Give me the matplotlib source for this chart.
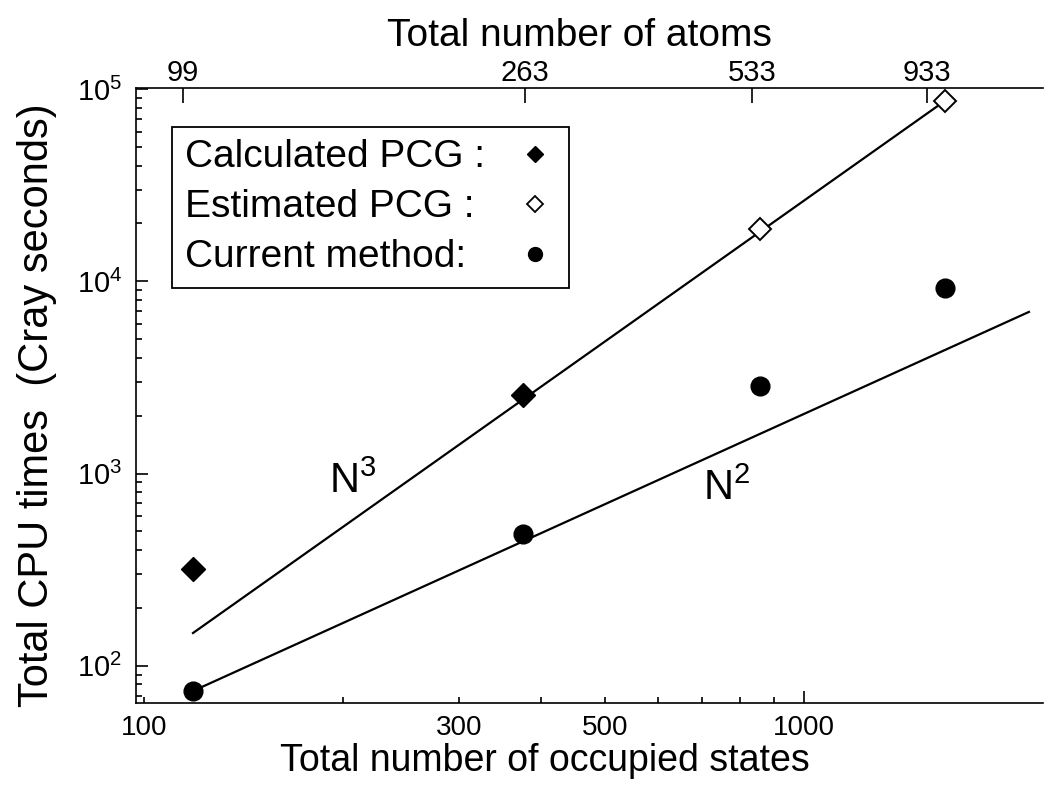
import matplotlib
matplotlib.use('Agg')
import matplotlib.pyplot as plt
from matplotlib.lines import Line2D
from matplotlib.ticker import FixedLocator, NullFormatter, LogLocator

plt.rcParams['font.family'] = ['Liberation Sans', 'DejaVu Sans']
plt.rcParams['mathtext.default'] = 'regular'

# x = total number of occupied states, y = CPU time (Cray seconds)
calc_states = [118.7, 375]
calc_cpu = [319, 2565]
est_states = [856, 1632]
est_cpu = [18740, 86800]
cur_states = [118.7, 375, 856, 1632]
cur_cpu = [73.9, 485, 2857, 9240]

# scaling guide lines (end points)
n3_states = [118.7, 1632]
n3_cpu = [148, 86800]
n2_states = [118.7, 2188]
n2_cpu = [73.9, 6932]

# top axis: number of atoms at their occupied-state positions
atom_labels = ['99', '263', '533', '933']
atom_states = [114.6, 378, 833, 1533]

x_ticks = [100, 300, 500, 1000]
x_minor = [200, 400, 600, 700, 800, 900]

fig = plt.figure(figsize=(10.46, 7.89), dpi=100)
ax = fig.add_axes([0.130, 0.109, 0.867, 0.7795])
ax.set_xscale('log')
ax.set_yscale('log')

ax.plot(n3_states, n3_cpu, color='black', lw=1.6, zorder=2)
ax.plot(n2_states, n2_cpu, color='black', lw=1.6, zorder=2)
ax.plot(calc_states, calc_cpu, ls='none', marker='D', ms=12, color='black', zorder=3)
ax.plot(est_states, est_cpu, ls='none', marker='D', ms=11.5, mfc='white', mec='black', mew=1.4, zorder=3)
ax.plot(cur_states, cur_cpu, ls='none', marker='o', ms=13.5, color='black', zorder=3)

ax.text(207, 904, r'N$^3$', fontsize=30, ha='center', va='center')
ax.text(764, 832, r'N$^2$', fontsize=30, ha='center', va='center')

ax.set_xlim(97.3, 2297)
ax.set_ylim(64, 101400)

# bottom axis ticks
ax.xaxis.set_major_locator(FixedLocator(x_ticks))
ax.xaxis.set_minor_locator(FixedLocator(x_minor))
ax.xaxis.set_minor_formatter(NullFormatter())
ax.set_xticklabels([str(v) for v in x_ticks])
ax.tick_params(axis='x', which='both', direction='in', length=4.3, width=1.2, labelsize=20, pad=9)
major = ax.xaxis.get_major_ticks()
major[0].tick1line.set_visible(False)
major[-1].tick1line.set_markersize(8.6)

ax.yaxis.set_major_locator(LogLocator(base=10))
ax.yaxis.set_minor_locator(LogLocator(base=10, subs=range(2, 10)))
ax.yaxis.set_minor_formatter(NullFormatter())
ax.tick_params(axis='y', which='major', direction='in', length=8.6, width=1.2, labelsize=21, pad=10)
ax.tick_params(axis='y', which='minor', direction='in', length=4.3, width=1.2)

for s in ['left', 'bottom', 'top']:
    ax.spines[s].set_linewidth(1.2)
ax.spines['right'].set_visible(False)

ax.set_xlabel('Total number of occupied states', fontsize=27, labelpad=1)
ax.xaxis.label.set_x(0.451)
ax.set_ylabel('Total CPU times  (Cray seconds)', fontsize=30, labelpad=14)
ax.yaxis.label.set_y(0.485)

# top axis
ax2 = ax.twiny()
ax2.set_xscale('log')
ax2.set_xlim(ax.get_xlim())
ax2.xaxis.set_major_locator(FixedLocator(atom_states))
ax2.xaxis.set_minor_locator(FixedLocator([]))
ax2.set_xticklabels(atom_labels)
ax2.tick_params(axis='x', which='major', direction='in', length=11, width=1.2, labelsize=21, pad=1)
ax2.set_xlabel('Total number of atoms', fontsize=28, labelpad=9)
ax2.xaxis.label.set_x(0.4895)
for s in ax2.spines.values():
    s.set_visible(False)

# legend: texts in first column, markers in second
blank = Line2D([], [], ls='none')
h_calc = Line2D([], [], ls='none', marker='D', ms=8, color='black')
h_est = Line2D([], [], ls='none', marker='D', ms=8, mfc='white', mec='black', mew=1.3)
h_cur = Line2D([], [], ls='none', marker='o', ms=10, color='black')
handles = [blank, blank, blank, h_calc, h_est, h_cur]
labels = ['Calculated PCG :', 'Estimated PCG :', 'Current method:', '  ', '  ', '  ']
leg = ax.legend(handles, labels, ncol=2, loc='upper left', bbox_to_anchor=(0.040, 0.937),
                borderaxespad=0, handlelength=0, handletextpad=0, columnspacing=1.3,
                fontsize=28, fancybox=False, edgecolor='black', framealpha=1,
                borderpad=0.32, labelspacing=0.36)
leg.get_frame().set_linewidth(1.3)

fig.savefig('out.png', dpi=100)
